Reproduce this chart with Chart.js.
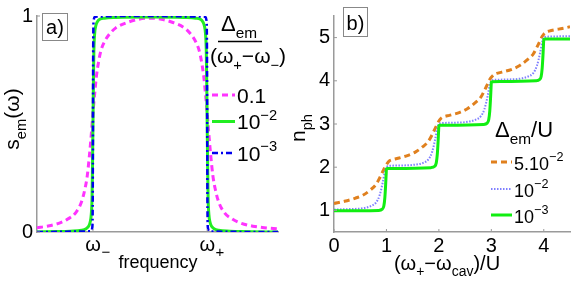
<!DOCTYPE html>
<html>
<head>
<meta charset="utf-8">
<script src="https://cdn.jsdelivr.net/npm/chart.js@4.4.1/dist/chart.umd.min.js"></script>
<style>
body{margin:0;background:#fff;}
#wrap{position:relative;width:581px;height:283px;overflow:hidden;}
canvas{position:absolute;top:0;}
</style>
</head>
<body>
<div id="wrap">
<canvas id="chartA" width="290" height="283" style="left:0px"></canvas>
<canvas id="chartB" width="291" height="283" style="left:290px"></canvas>
</div>
<script>
// ---- panel a) : s_em(omega), omega_- = 0, omega_+ = 1
var omegaWide = [-0.49,-0.4,-0.3,-0.22,-0.15,-0.1,-0.07,-0.05,-0.03,-0.015,0,0.015,0.03,0.05,0.07,0.1,0.15,0.2,0.3,0.4,0.5,
                 0.6,0.7,0.8,0.85,0.9,0.93,0.95,0.97,0.985,1.0,1.015,1.03,1.05,1.07,1.1,1.15,1.22,1.3,1.4,1.5,1.62];
var sWide = [0.02,0.027,0.04,0.06,0.09,0.14,0.2,0.26,0.36,0.45,0.55,0.64,0.72,0.79,0.84,0.88,0.92,0.945,0.97,0.985,0.99,
             0.985,0.97,0.945,0.92,0.88,0.84,0.79,0.72,0.64,0.55,0.45,0.36,0.26,0.2,0.14,0.09,0.06,0.04,0.027,0.02,0.014];
var omegaMid = [-0.49,-0.3,-0.2,-0.1,-0.06,-0.04,-0.025,-0.015,-0.008,-0.004,0,0.004,0.008,0.015,0.025,0.04,0.06,0.1,0.2,0.5,
                0.8,0.9,0.94,0.96,0.975,0.985,0.992,0.996,1.0,1.004,1.008,1.015,1.025,1.04,1.06,1.1,1.2,1.3,1.62];
var sMid = [0,0.002,0.004,0.008,0.015,0.025,0.045,0.08,0.16,0.3,0.5,0.7,0.84,0.92,0.955,0.975,0.985,0.99,0.993,0.995,
            0.993,0.99,0.985,0.975,0.955,0.92,0.84,0.7,0.5,0.3,0.16,0.08,0.045,0.025,0.015,0.008,0.004,0.002,0];
var omegaNarrow = [-0.49,-0.02,-0.006,-0.002,0,0.002,0.006,0.02,0.5,0.98,0.994,0.998,1.0,1.002,1.006,1.02,1.62];
var sNarrow = [0,0.003,0.02,0.15,0.5,0.85,0.98,0.997,1.0,0.997,0.98,0.85,0.5,0.15,0.02,0.003,0];
var labelsA = ['0.1', '10^\u22122', '10^\u22123'];
var yTicksA = [0, 1];
var xTicksA = [0, 1];
var xTickSubA = ['\u2212', '+'];

// ---- panel b) : n_ph vs (omega_+ - omega_cav)/U
var detOrange = [0,0.2,0.4,0.55,0.7,0.8,0.87,0.93,0.97,1.0,1.05,1.1,1.2,1.4,1.55,1.7,1.8,1.87,1.93,1.97,2.0,2.05,2.1,2.2,2.4,2.55,
                 2.7,2.8,2.87,2.93,2.97,3.0,3.05,3.1,3.2,3.4,3.55,3.7,3.8,3.87,3.93,3.97,4.0,4.05,4.1,4.2,4.35,4.5];
var nOrange = [1.16,1.21,1.28,1.35,1.48,1.6,1.75,1.9,2.0,2.06,2.14,2.17,2.2,2.27,2.35,2.48,2.6,2.75,2.9,3.0,3.07,3.14,3.17,3.2,3.27,3.36,
               3.5,3.62,3.78,3.93,4.03,4.08,4.14,4.17,4.2,4.27,4.36,4.5,4.62,4.78,4.93,5.03,5.08,5.13,5.15,5.18,5.21,5.25];
var detBlue = [0,0.3,0.55,0.7,0.8,0.87,0.93,0.97,1.0,1.05,1.3,1.55,1.7,1.8,1.87,1.93,1.97,2.0,2.05,2.3,2.55,2.7,2.8,2.87,2.93,2.97,
               3.0,3.05,3.3,3.55,3.7,3.8,3.87,3.93,3.97,4.0,4.05,4.5];
var nBlue = [1.02,1.03,1.05,1.1,1.18,1.35,1.65,1.9,2.0,2.03,2.04,2.06,2.1,2.18,2.35,2.65,2.9,3.0,3.02,3.03,3.05,3.1,3.18,3.35,3.65,3.9,
             4.0,4.02,4.03,4.05,4.1,4.18,4.35,4.65,4.9,5.0,5.02,5.03];
var detGreen = [0,0.85,0.92,0.95,0.97,0.985,0.995,1.0,1.02,1.85,1.92,1.95,1.97,1.985,1.995,2.0,2.02,2.85,2.92,2.95,2.97,2.985,2.995,
                3.0,3.02,3.85,3.92,3.95,3.97,3.985,3.995,4.0,4.02,4.5];
var nGreen = [0.99,1.0,1.03,1.1,1.3,1.6,1.85,1.96,1.97,1.99,2.02,2.1,2.3,2.6,2.85,2.96,2.97,2.99,3.02,3.1,3.3,3.6,3.85,
              3.97,3.98,4.0,4.03,4.1,4.3,4.6,4.85,4.96,4.97,4.97];
var labelsB = ['5.10^\u22122', '10^\u22122', '10^\u22123'];
var yTicksB = [1, 2, 3, 4, 5];
var xTicksB = [0, 1, 2, 3, 4];

var FONT = '"Liberation Sans", Arial, Helvetica, sans-serif';
var AXIS = '#9a9a9a';
Chart.defaults.font.family = FONT;
Chart.defaults.color = '#000';

function pts(xs, ys){ return xs.map(function(x,i){ return {x:x, y:ys[i]}; }); }

// draw text with sub/superscripts, parts = [[text, ''|'sub'|'sup'], ...]
function rich(ctx, parts, x, y, size, align){
  var w = parts.map(function(p){
    ctx.font = (p[1] ? size*0.7 : size) + 'px ' + FONT;
    return ctx.measureText(p[0]).width;
  });
  var total = w.reduce(function(a,b){ return a+b; }, 0);
  var cx = align === 'center' ? x - total/2 : (align === 'right' ? x - total : x);
  ctx.textAlign = 'left';
  ctx.textBaseline = 'alphabetic';
  ctx.fillStyle = '#000';
  parts.forEach(function(p, i){
    var dy = p[1] === 'sub' ? size*0.32 : (p[1] === 'sup' ? -size*0.45 : 0);
    ctx.font = (p[1] ? size*0.7 : size) + 'px ' + FONT;
    ctx.fillText(p[0], cx, y + dy);
    cx += w[i];
  });
}
function labelParts(s){
  var k = s.split('^');
  return k.length > 1 ? [[k[0], ''], [k[1], 'sup']] : [[s, '']];
}
function tickMarks(ctx, chart){
  var xs = chart.scales.x, ys = chart.scales.y, a = chart.chartArea;
  ctx.strokeStyle = AXIS; ctx.lineWidth = 1;
  xs.ticks.forEach(function(t){
    var px = xs.getPixelForValue(t.value);
    ctx.beginPath(); ctx.moveTo(px, a.bottom); ctx.lineTo(px, a.bottom - 3); ctx.stroke();
  });
  ys.ticks.forEach(function(t){
    var py = ys.getPixelForValue(t.value);
    ctx.beginPath(); ctx.moveTo(a.left, py); ctx.lineTo(a.left + 3, py); ctx.stroke();
  });
}
function panelBox(ctx, txt, x, y, w, h){
  ctx.strokeStyle = '#888'; ctx.lineWidth = 1;
  ctx.fillStyle = '#fff';
  ctx.fillRect(x, y, w, h);
  ctx.strokeRect(x, y, w, h);
  rich(ctx, [[txt, '']], x + w/2, y + h - 7, 20, 'center');
}
function legendLines(ctx, chart, labels, x0, x1, tx, ys, size){
  chart.data.datasets.forEach(function(ds, i){
    ctx.save();
    ctx.strokeStyle = ds.borderColor;
    ctx.lineWidth = ds.borderWidth;
    ctx.setLineDash(ds.borderDash || []);
    ctx.beginPath(); ctx.moveTo(x0, ys[i]); ctx.lineTo(x1, ys[i]); ctx.stroke();
    ctx.restore();
    rich(ctx, labelParts(labels[i]), tx, ys[i] + 7.5, size, 'left');
  });
}

function baseScales(xmin, xmax, ymin, ymax, xt, yt, yWidth, xHeight, xShow){
  return {
    x: {type:'linear', min:xmin, max:xmax,
        afterBuildTicks: function(s){ s.ticks = xt.map(function(v){ return {value:v}; }); },
        afterFit: function(s){ s.height = xHeight; },
        grid:{drawOnChartArea:false, drawTicks:false},
        border:{color:AXIS, width:1.5},
        ticks:{display:xShow, font:{size:20}, padding:2, maxRotation:0, color:'#000'}},
    y: {type:'linear', min:ymin, max:ymax,
        afterBuildTicks: function(s){ s.ticks = yt.map(function(v){ return {value:v}; }); },
        afterFit: function(s){ s.width = yWidth; },
        grid:{drawOnChartArea:false, drawTicks:false},
        border:{color:AXIS, width:1.5},
        ticks:{font:{size:20}, padding:4, color:'#000'}}
  };
}

var decorA = {
  id: 'decorA',
  afterDraw: function(chart){
    var ctx = chart.ctx, xs = chart.scales.x;
    ctx.save();
    tickMarks(ctx, chart);
    xTicksA.forEach(function(v, i){
      var px = xs.getPixelForValue(v);
      ctx.font = '20px ' + FONT;
      var ww = ctx.measureText('\u03c9').width;
      rich(ctx, [['\u03c9', '']], px, 251, 20, 'center');
      rich(ctx, [[xTickSubA[i], '']], px + ww/2 + 5, 257, 15, 'center');
    });
    rich(ctx, [['frequency', '']], 158, 268, 18, 'center');
    ctx.save();
    ctx.translate(19, 119); ctx.rotate(-Math.PI/2);
    rich(ctx, [['s', ''], ['em', 'sub'], ['(\u03c9)', '']], 0, 0, 21, 'center');
    ctx.restore();
    panelBox(ctx, 'a)', 42.5, 13.5, 25, 27);
    // legend title: Delta_em / (omega_+ - omega_-)
    rich(ctx, [['\u0394', ''], ['em', 'sub']], 239, 31, 22, 'center');
    ctx.strokeStyle = '#000'; ctx.lineWidth = 1.3;
    ctx.beginPath(); ctx.moveTo(218, 41.5); ctx.lineTo(262, 41.5); ctx.stroke();
    rich(ctx, [['(\u03c9', ''], ['+', 'sub'], ['\u2212\u03c9', ''], ['\u2212', 'sub'], [')', '']], 248, 63, 21, 'center');
    legendLines(ctx, chart, labelsA, 212, 235, 237, [95, 121.5, 153], 21);
    ctx.restore();
  }
};

var decorB = {
  id: 'decorB',
  afterDraw: function(chart){
    var ctx = chart.ctx;
    ctx.save();
    tickMarks(ctx, chart);
    rich(ctx, [['(\u03c9', ''], ['+', 'sub'], ['\u2212\u03c9', ''], ['cav', 'sub'], [')/U', '']], 157, 270, 20, 'center');
    ctx.save();
    ctx.translate(15, 128); ctx.rotate(-Math.PI/2);
    rich(ctx, [['n', ''], ['ph', 'sub']], 0, 0, 21, 'center');
    ctx.restore();
    panelBox(ctx, 'b)', 53.5, 7.5, 24, 29);
    rich(ctx, [['\u0394', ''], ['em', 'sub'], ['/U', '']], 205, 137, 22, 'left');
    legendLines(ctx, chart, labelsB, 201, 222, 224, [162, 189, 215], 18);
    ctx.restore();
  }
};

var common = {
  responsive:false, animation:false, devicePixelRatio:1,
  plugins:{legend:{display:false}, tooltip:{enabled:false}},
  elements:{point:{radius:0}, line:{cubicInterpolationMode:'monotone'}}
};

new Chart(document.getElementById('chartA').getContext('2d'), {
  type:'scatter',
  data:{datasets:[
    {data:pts(omegaWide, sWide), showLine:true, borderColor:'#ff33ff', borderWidth:3, borderDash:[6,4], order:2},
    {data:pts(omegaMid, sMid), showLine:true, borderColor:'#22ee22', borderWidth:3, order:1},
    {data:pts(omegaNarrow, sNarrow), showLine:true, borderColor:'#0000ee', borderWidth:2.5, borderDash:[6,3,2,3], order:0}
  ]},
  options:Object.assign({}, common, {
    layout:{padding:{top:12.5, right:12, left:0, bottom:0}},
    scales: baseScales(-0.49, 1.62, 0, 1, xTicksA, yTicksA, 37, 51, false)
  }),
  plugins:[decorA]
});

new Chart(document.getElementById('chartB').getContext('2d'), {
  type:'scatter',
  data:{datasets:[
    {data:pts(detOrange, nOrange), showLine:true, borderColor:'#e0801e', borderWidth:3, borderDash:[6,4], order:2},
    {data:pts(detBlue, nBlue), showLine:true, borderColor:'#8080ff', borderWidth:2, borderDash:[1.5,1.5], order:1},
    {data:pts(detGreen, nGreen), showLine:true, borderColor:'#11ee11', borderWidth:3, order:0}
  ]},
  options:Object.assign({}, common, {
    layout:{padding:{top:11, right:11, left:0, bottom:0}},
    scales: baseScales(0, 4.5, 0.5, 5.5, xTicksB, yTicksB, 44, 51, true)
  }),
  plugins:[decorB]
});
</script>
</body>
</html>
